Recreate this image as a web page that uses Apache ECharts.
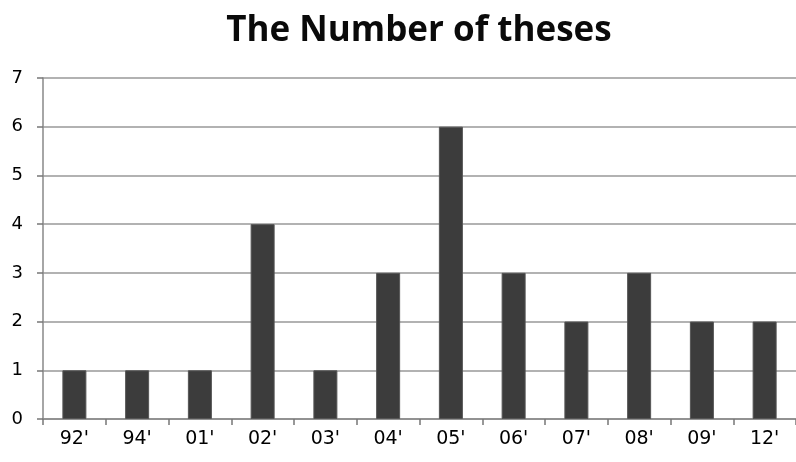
<!DOCTYPE html>
<html>
<head>
<meta charset="utf-8">
<script src="https://cdn.jsdelivr.net/npm/echarts@6/dist/echarts.min.js"></script>
<style>
  html, body { margin: 0; padding: 0; background: #fff; }
  #chart { width: 796px; height: 462px; }
</style>
</head>
<body>
<div id="chart"></div>
<script>
// Theses published per year
const years = ["92'", "94'", "01'", "02'", "03'", "04'", "05'", "06'", "07'", "08'", "09'", "12'"];
const thesisCounts = [1, 1, 1, 4, 1, 3, 6, 3, 2, 3, 2, 2];
const yTicks = [0, 1, 2, 3, 4, 5, 6, 7];

const chart = echarts.init(document.getElementById('chart'));
chart.setOption({
  animation: false,
  backgroundColor: '#ffffff',
  title: {
    text: 'The Number of theses',
    left: 414,
    top: 9,
    textAlign: 'center',
    textStyle: {
      fontFamily: 'Open Sans',
      fontWeight: 'bold',
      fontSize: 35,
      color: '#0a0a0a'
    }
  },
  grid: { left: 43, top: 78, width: 761, height: 341 },
  xAxis: {
    type: 'category',
    data: years,
    axisLine: { lineStyle: { color: '#888', width: 1.5 } },
    axisTick: { show: true, length: 6, lineStyle: { color: '#777', width: 1.5 } },
    axisLabel: {
      margin: 11,
      fontFamily: 'DejaVu Sans',
      fontSize: 19,
      color: '#000'
    }
  },
  yAxis: {
    type: 'value',
    min: yTicks[0],
    max: yTicks[yTicks.length - 1],
    interval: 1,
    axisLine: { show: true, lineStyle: { color: '#888', width: 1.5 } },
    axisTick: { show: true, length: 6, lineStyle: { color: '#777', width: 1.5 } },
    splitLine: { lineStyle: { color: '#999', width: 1.5 } },
    axisLabel: {
      margin: 20,
      fontFamily: 'DejaVu Sans',
      fontSize: 18,
      color: '#000'
    }
  },
  series: [{
    type: 'bar',
    data: thesisCounts,
    barWidth: 24,
    itemStyle: {
      color: '#3c3c3c',
      borderColor: '#555',
      borderWidth: 1
    }
  }]
});
</script>
</body>
</html>
